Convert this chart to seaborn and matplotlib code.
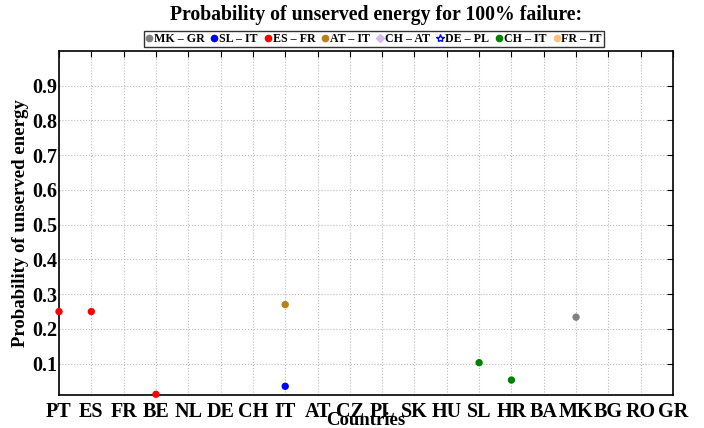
import matplotlib
matplotlib.use("Agg")
import matplotlib.pyplot as plt
import seaborn as sns
import pandas as pd
from matplotlib.lines import Line2D

countries = ['PT', 'ES', 'FR', 'BE', 'NL', 'DE', 'CH', 'IT', 'AT', 'CZ',
             'PL', 'SK', 'HU', 'SL', 'HR', 'BA', 'MK', 'BG', 'RO', 'GR']
links = ['MK – GR', 'SL – IT', 'ES – FR', 'AT – IT', 'CH – AT', 'DE – PL', 'CH – IT', 'FR – IT']
link_colors = ['#808080', '#0000ff', '#ff0000', '#b8801a', '#d9b8f5', '#0000ff', '#008000', '#ffc080']
link_markers = ['o', 'o', 'o', 'o', 'D', '*', 'o', 'o']

# observed points: (link, country, probability)
pt_link = ['ES – FR', 'ES – FR', 'ES – FR', 'SL – IT', 'AT – IT', 'CH – IT', 'CH – IT', 'MK – GR']
pt_country = ['PT', 'ES', 'BE', 'IT', 'IT', 'SL', 'HR', 'MK']
pt_value = [0.25, 0.25, 0.012, 0.035, 0.27, 0.103, 0.053, 0.234]

df = pd.DataFrame({'link': pt_link, 'country': pt_country, 'value': pt_value})
df['pos'] = df['country'].map({c: i + 1 for i, c in enumerate(countries)})

sns.set_style("white")
plt.rcParams['font.family'] = ['Liberation Serif', 'DejaVu Serif']
plt.rcParams['font.weight'] = 'bold'
plt.rcParams['text.color'] = 'black'
plt.rcParams['axes.labelcolor'] = 'black'
plt.rcParams['xtick.color'] = 'black'
plt.rcParams['ytick.color'] = 'black'

fig = plt.figure(figsize=(7.04, 4.28), dpi=100)
ax = fig.add_axes([0.0838, 0.0771, 0.8722, 0.8039])

palette = dict(zip(links, link_colors))
sns.scatterplot(data=df, x='pos', y='value', hue='link', palette=palette,
                s=28, edgecolor='none', legend=False, ax=ax, clip_on=False, zorder=3)

ax.set_xlim(1, len(countries))
ax.set_ylim(0.01, 1.0)
ax.set_xticks(range(1, len(countries) + 1))
ax.set_xticklabels(countries, fontsize=14.5, fontweight='bold')
yt = [0.1, 0.2, 0.3, 0.4, 0.5, 0.6, 0.7, 0.8, 0.9]
ax.set_yticks(yt)
ax.set_yticklabels([f'{v:.1f}' for v in yt], fontsize=14.5, fontweight='bold')
ax.tick_params(direction='in', top=True, right=True, length=4, width=0.8)
ax.tick_params(axis='x', pad=5)
ax.tick_params(axis='y', pad=1.5)
ax.grid(True, linestyle=':', color='#bbbbbb', linewidth=0.8)
for s in ax.spines.values():
    s.set_visible(True)
    s.set_color('black')
    s.set_linewidth(1.2)

ax.set_xlabel('Countries', fontsize=13.5, fontweight='bold', labelpad=-7.5)
ax.set_ylabel('Probability of unserved energy', fontsize=13.5, fontweight='bold', labelpad=2)

fig.text(0.5335, 0.965, 'Probability of unserved energy for 100% failure:',
         ha='center', va='center', fontsize=14.2, fontweight='bold')

handles = [Line2D([], [], linestyle='none', marker=m, color=c, markersize=4.5 if m != '*' else 6,
                  markerfacecolor=c if m != '*' else 'none')
           for c, m in zip(link_colors, link_markers)]
leg = fig.legend(handles, links, loc='center', bbox_to_anchor=(0.531, 0.909), ncol=8,
                 frameon=True, fancybox=False, edgecolor='black',
                 handlelength=0.5, handletextpad=0.15, columnspacing=0.6,
                 borderpad=0.15, prop={'weight': 'bold', 'size': 8.6})
leg.get_frame().set_linewidth(1.0)

fig.savefig('out.png', dpi=100)
